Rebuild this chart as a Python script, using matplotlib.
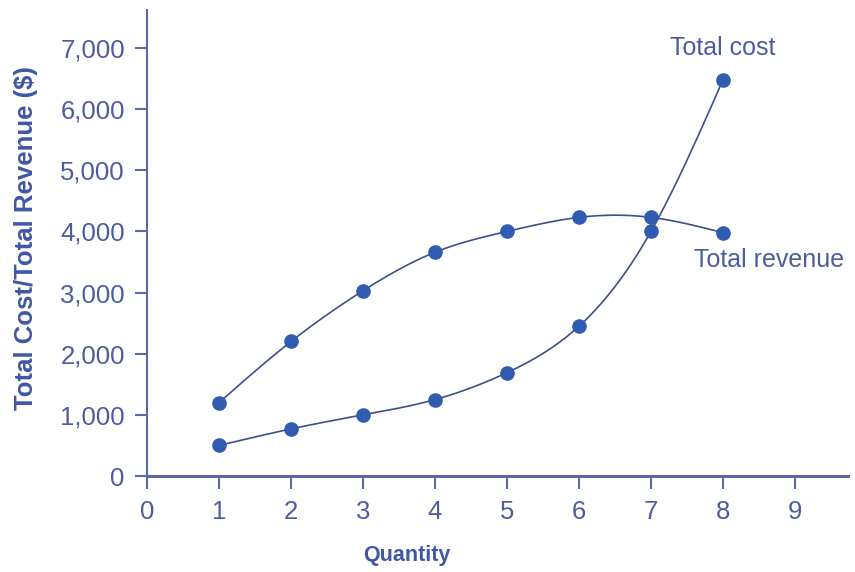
import matplotlib.pyplot as plt
import numpy as np

plt.rcParams["font.family"] = ["Liberation Sans", "DejaVu Sans"]

# data
quantity = [1, 2, 3, 4, 5, 6, 7, 8]
total_revenue = [1200, 2200, 3030, 3660, 4000, 4230, 4230, 3980]
total_cost = [500, 770, 1000, 1250, 1690, 2450, 4000, 6480]
x_ticks = [0, 1, 2, 3, 4, 5, 6, 7, 8, 9]
y_ticks = [0, 1000, 2000, 3000, 4000, 5000, 6000, 7000]
y_tick_labels = ["0", "1,000", "2,000", "3,000", "4,000", "5,000", "6,000", "7,000"]

text_col = "#4d5c9e"
axis_col = "#5a6aa8"
line_col = "#3e4f8c"
dot_col = "#2f5cb0"


def natural_spline(x, y, n=200):
    # plain natural cubic spline, no scipy here
    x = np.asarray(x, float)
    y = np.asarray(y, float)
    k = len(x)
    h = np.diff(x)
    A = np.zeros((k, k))
    b = np.zeros(k)
    A[0, 0] = 1
    A[-1, -1] = 1
    for i in range(1, k - 1):
        A[i, i - 1] = h[i - 1]
        A[i, i] = 2 * (h[i - 1] + h[i])
        A[i, i + 1] = h[i]
        b[i] = 3 * ((y[i + 1] - y[i]) / h[i] - (y[i] - y[i - 1]) / h[i - 1])
    c = np.linalg.solve(A, b)
    xs = np.linspace(x[0], x[-1], n)
    ys = np.zeros_like(xs)
    for j, xv in enumerate(xs):
        i = min(np.searchsorted(x, xv, side="right") - 1, k - 2)
        d = xv - x[i]
        bi = (y[i + 1] - y[i]) / h[i] - h[i] * (2 * c[i] + c[i + 1]) / 3
        di = (c[i + 1] - c[i]) / (3 * h[i])
        ys[j] = y[i] + bi * d + c[i] * d ** 2 + di * d ** 3
    return xs, ys


fig = plt.figure(figsize=(8.55, 5.72), dpi=100)
ax = fig.add_axes([147 / 855, 96 / 572, 701 / 855, 466 / 572])

for series in (total_revenue, total_cost):
    sx, sy = natural_spline(quantity, series)
    ax.plot(sx, sy, color=line_col, lw=1.2, zorder=2)
    ax.plot(quantity, series, "o", color=dot_col, ms=9.5, zorder=3)

ax.set_xlim(0, 701 / 72)
ax.set_ylim(0, 466 / 61.14 * 1000)

ax.set_xticks(x_ticks)
ax.set_yticks(y_ticks)
ax.set_yticklabels(y_tick_labels)
ax.tick_params(colors=axis_col, labelcolor=text_col, labelsize=18.5,
               length=9, width=1.5, direction="out")
ax.tick_params(axis="x", pad=8)
ax.tick_params(axis="y", pad=7)

for s in ["top", "right"]:
    ax.spines[s].set_visible(False)
ax.spines["left"].set_color(axis_col)
ax.spines["bottom"].set_color(axis_col)
ax.spines["left"].set_linewidth(1.5)
ax.spines["bottom"].set_linewidth(2.2)

ax.set_xlabel("Quantity", color="#3f57a6", fontsize=15.5, fontweight="bold",
              va="center", ha="center")
ax.xaxis.set_label_coords(0.37, -0.17)
ax.set_ylabel("Total Cost/Total Revenue ($)", color="#3f57a6", fontsize=18.5,
              fontweight="bold", va="center", ha="center")
ax.yaxis.set_label_coords(-0.172, 0.51)

ax.annotate("Total cost", (quantity[-1], total_cost[-1]), xytext=(0, 23),
            textcoords="offset points", ha="center", va="center",
            fontsize=18, color=text_col)
ax.annotate("Total revenue", (quantity[-1], total_revenue[-1]), xytext=(-21, -20),
            textcoords="offset points", ha="left", va="center",
            fontsize=18, color=text_col)

fig.savefig("out.png", dpi=100)
